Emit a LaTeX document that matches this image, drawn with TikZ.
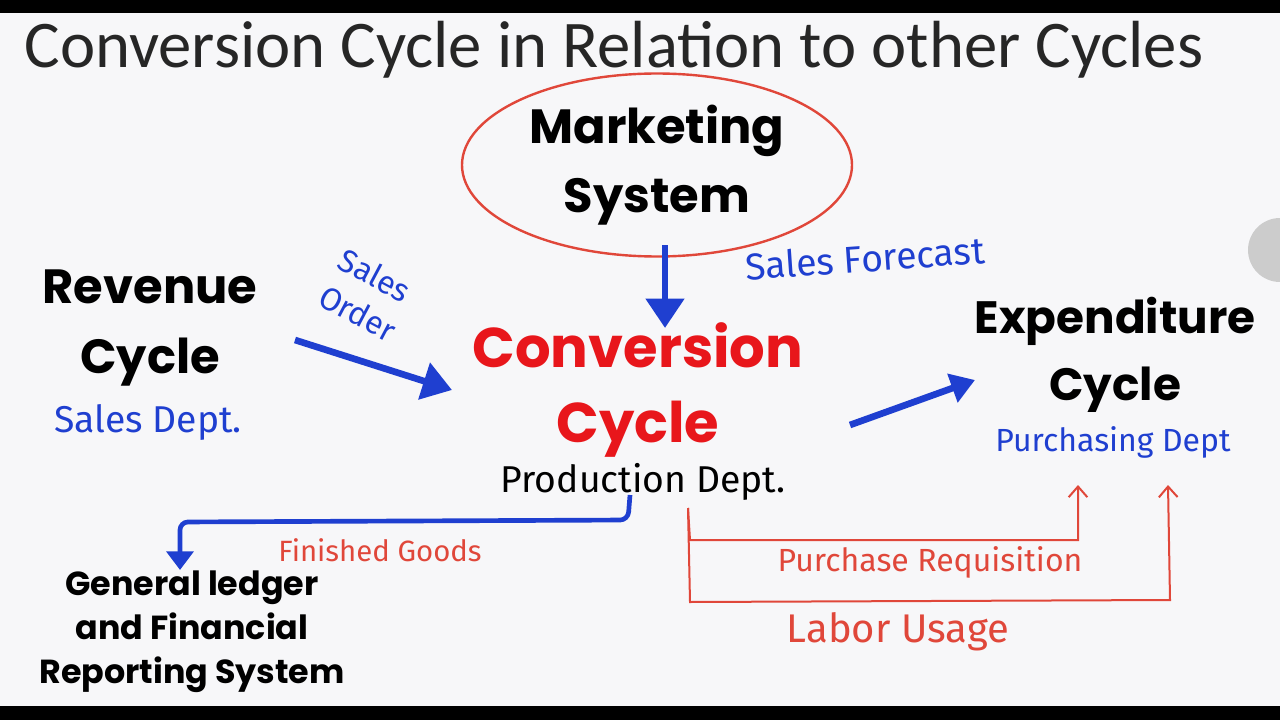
\documentclass[tikz,border=0pt]{standalone}
\usepackage{fontspec}
\setmainfont{Poppins}
\newfontfamily\titlef{Carlito}
\newfontfamily\handf{Fira Sans}
\usetikzlibrary{arrows.meta,shapes.geometric}
\definecolor{bg}{HTML}{F7F7F9}
\definecolor{bl}{HTML}{1F3FD0}
\definecolor{rd}{HTML}{E0473A}
\definecolor{cr}{HTML}{E8161B}
\tikzset{
 big/.style={font=\fontsize{34}{50}\selectfont\bfseries,align=center,text=black},
 hand/.style={font=\handf\fontsize{24}{26}\selectfont},
 bluearrow/.style={draw=bl,line width=5pt,-{Triangle[length=22pt,width=28pt]}},
 bluethin/.style={draw=bl,line width=3.5pt},
 redline/.style={draw=rd,line width=1.5pt},
}
\begin{document}
\begin{tikzpicture}[x=0.75pt,y=-0.75pt]
\useasboundingbox (0,0) rectangle (1280,720);
\clip (0,0) rectangle (1280,720);
\fill[bg] (0,0) rectangle (1280,720);
\fill[black] (0,0) rectangle (1280,13);
\fill[black] (0,706) rectangle (1280,720);
\fill[gray!40] (1280,250) circle (32);
\node[font=\titlef\fontsize{50}{54}\selectfont,text=black!85,anchor=west] (title) at (20,50) {Conversion Cycle in Relation to other Cycles};
\node[draw=rd,line width=1.8pt,ellipse,minimum width=390*0.75pt,minimum height=150*0.75pt,big,font=\fontsize{36}{52}\selectfont\bfseries] (mkt) at (657,165) {Marketing\\System};
\node[big,font=\fontsize{36}{52}\selectfont\bfseries] (rev) at (150,328) {Revenue\\Cycle};
\node[hand,text=bl,font=\handf\fontsize{28}{30}\selectfont] (sd) at (148,422) {Sales Dept.};
\node[big,text=cr,font=\fontsize{42}{56}\selectfont\bfseries] (conv) at (638,390) {Conversion\\Cycle};
\node[hand,text=black,font=\handf\fontsize{28}{30}\selectfont] (pd) at (643,482) {Production Dept.};
\node[big] (exp) at (1115,355) {Expenditure\\Cycle};
\node[hand,text=bl] (pur) at (1113,442) {Purchasing Dept};
\node[big,font=\fontsize{25}{33}\selectfont\bfseries] (gl) at (192,632) {General ledger\\and Financial\\Reporting System};
\node[hand,text=bl,rotate=4,font=\handf\fontsize{28}{30}\selectfont] (sf) at (865,258) {Sales Forecast};
\node[hand,text=bl,rotate=-28,inner sep=0pt] (so1) at (375,275) {Sales};
\node[hand,text=bl,rotate=-28,inner sep=0pt] (so2) at (358,313) {Order};
\node[hand,text=rd,font=\handf\fontsize{22}{24}\selectfont] (fg) at (380,550) {Finished Goods};
\node[hand,text=rd,font=\handf\fontsize{24}{26}\selectfont] (prq) at (930,562) {Purchase Requisition};
\node[hand,text=rd,font=\handf\fontsize{30}{32}\selectfont] (lu) at (898,632) {Labor Usage};
\coordinate (m1) at (665,245); \coordinate (m2) at (665,328);
\draw[bluearrow] (m1) -- (m2);
\coordinate (r1) at (295,340); \coordinate (r2) at (452,390);
\draw[bluearrow] (r1) -- (r2);
\coordinate (e1) at (850,425); \coordinate (e2) at (975,380);
\draw[bluearrow,-{Triangle[length=18pt,width=22pt]}] (e1) -- (e2);
\coordinate (f1) at (630,495); \coordinate (f2) at (180,570);
\draw[bluethin,-{Triangle[length=14pt,width=20pt]},rounded corners=6pt] (f1) -- (628,520) -- (180,522) -- (f2);
\coordinate (p0) at (688,508); \coordinate (p1) at (1078,485); \coordinate (p2) at (1168,485);
\draw[redline,-{Straight Barb[length=8pt,width=14pt]}] (p0) -- (690,540) -- (1078,540) -- (p1);
\draw[redline,-{Straight Barb[length=8pt,width=14pt]}] (p0) -- (690,602) -- (1170,600) -- (p2);
\end{tikzpicture}
\end{document}
